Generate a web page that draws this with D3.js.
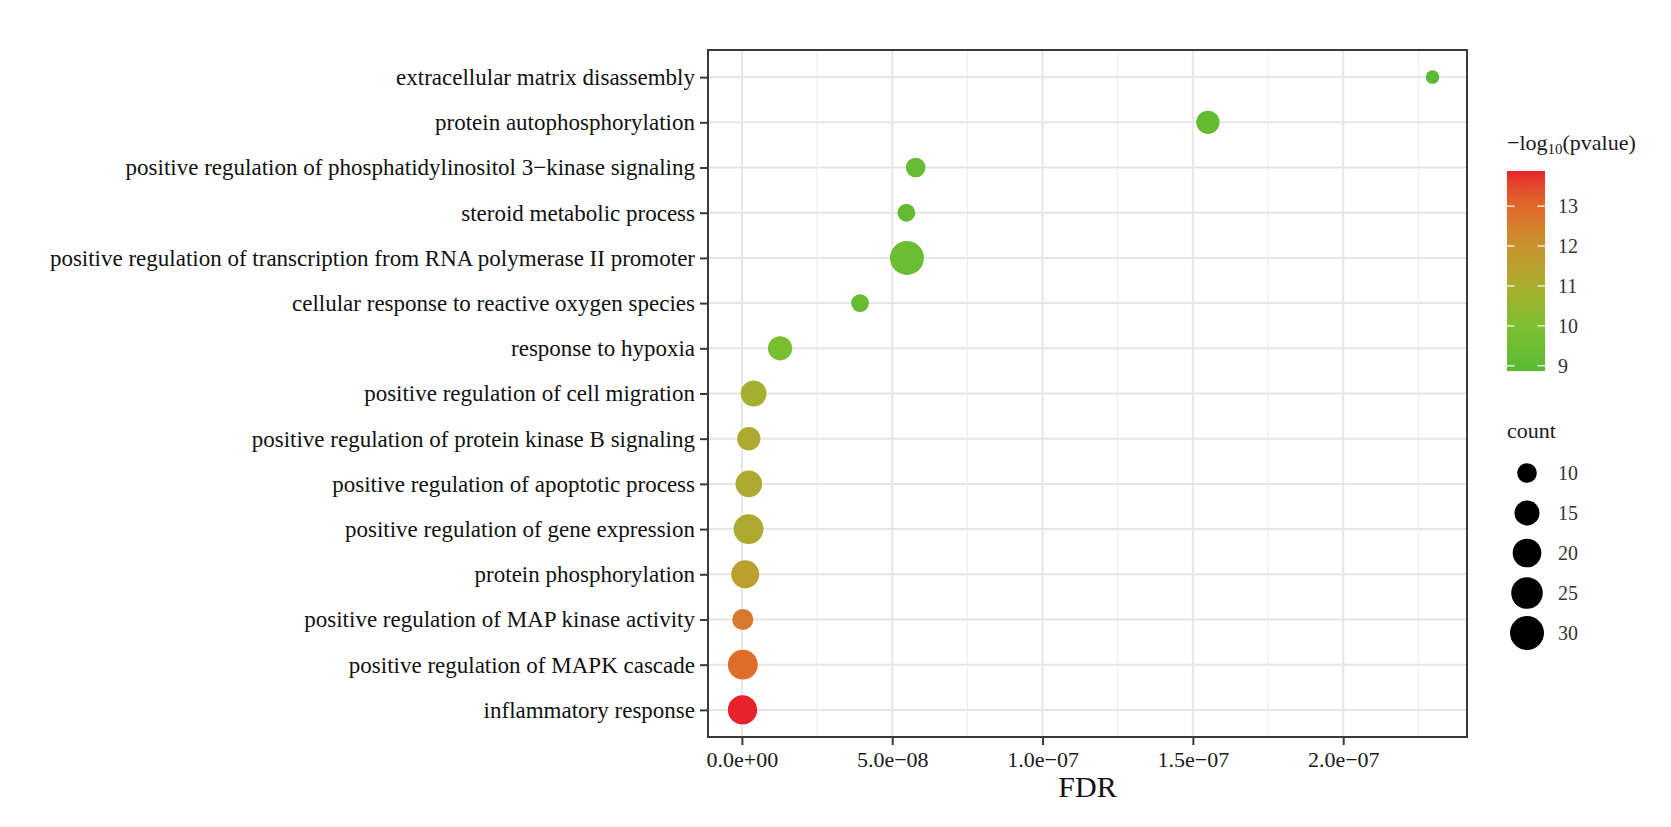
<!DOCTYPE html>
<html>
<head>
<meta charset="utf-8">
<script src="https://cdn.jsdelivr.net/npm/d3@7"></script>
<style>
  html, body { margin: 0; padding: 0; background: #fff; }
  svg { display: block; font-family: "Liberation Serif", "DejaVu Serif", serif; }
</style>
</head>
<body>
<div id="chart"></div>
<script>
// GO enrichment bubble chart — FDR vs term, colour = -log10(p), size = count
const terms = [
  "extracellular matrix disassembly",
  "protein autophosphorylation",
  "positive regulation of phosphatidylinositol 3−kinase signaling",
  "steroid metabolic process",
  "positive regulation of transcription from RNA polymerase II promoter",
  "cellular response to reactive oxygen species",
  "response to hypoxia",
  "positive regulation of cell migration",
  "positive regulation of protein kinase B signaling",
  "positive regulation of apoptotic process",
  "positive regulation of gene expression",
  "protein phosphorylation",
  "positive regulation of MAP kinase activity",
  "positive regulation of MAPK cascade",
  "inflammatory response"
];
const fdr    = [2.297e-7, 1.55e-7, 5.78e-8, 5.47e-8, 5.49e-8, 3.93e-8, 1.27e-8, 3.9e-9, 2.3e-9, 2.3e-9, 2.2e-9, 1.1e-9, 3e-10, 3e-10, 2e-10];
const logP   = [8.87, 9.2, 9.3, 9.2, 9.4, 9.3, 9.9, 10.9, 11.1, 11.1, 11.1, 11.5, 12.6, 12.9, 13.88];
const counts = [8, 13, 10, 9, 30, 9, 14, 16, 13, 17, 22, 19, 11, 22, 21];

const xTickValues = [0, 5e-8, 1e-7, 1.5e-7, 2e-7];
const xTickLabels = ["0.0e+00", "5.0e−08", "1.0e−07", "1.5e−07", "2.0e−07"];
const colorTicks  = [9, 10, 11, 12, 13];
const sizeBreaks  = [10, 15, 20, 25, 30];

const W = 1671, H = 827;
const panel = { left: 708, right: 1467, top: 50, bottom: 737 };

const svg = d3.select("#chart").append("svg")
  .attr("width", W).attr("height", H)
  .attr("viewBox", `0 0 ${W} ${H}`);

// scales
const [fMin, fMax] = d3.extent(fdr);
const pad = (fMax - fMin) * 0.05;
const x = d3.scaleLinear().domain([fMin - pad, fMax + pad]).range([panel.left, panel.right]);
const y = d3.scalePoint().domain(terms).range([panel.top, panel.bottom]).padding(0.6);

const [pMin, pMax] = d3.extent(logP);
const color = d3.scaleLinear()
  .domain([pMin, 10, 11, 12, 13, pMax])
  .range(["#5bba35", "#7cc02f", "#aaad2f", "#c8922c", "#e0682a", "#e8222c"])
  .interpolate(d3.interpolateLab);

const [cMin, cMax] = d3.extent(counts);
const diam = d3.scaleLinear().domain([0, 1]).range([13.5, 34]);
const size = c => diam(Math.sqrt(Math.max(0, (c - cMin) / (cMax - cMin))));

// panel grid
const grid = svg.append("g");
const minorX = d3.range(xTickValues.length - 1).map(i => (xTickValues[i] + xTickValues[i + 1]) / 2)
  .concat([xTickValues[xTickValues.length - 1] + 2.5e-8])
  .filter(v => x(v) > panel.left && x(v) < panel.right);
grid.selectAll(".minor").data(minorX).join("line")
  .attr("x1", d => x(d)).attr("x2", d => x(d))
  .attr("y1", panel.top).attr("y2", panel.bottom)
  .attr("stroke", "#ececec").attr("stroke-width", 1);
grid.selectAll(".majx").data(xTickValues).join("line")
  .attr("x1", d => x(d)).attr("x2", d => x(d))
  .attr("y1", panel.top).attr("y2", panel.bottom)
  .attr("stroke", "#e6e6e6").attr("stroke-width", 2);
grid.selectAll(".majy").data(terms).join("line")
  .attr("x1", panel.left).attr("x2", panel.right)
  .attr("y1", d => y(d)).attr("y2", d => y(d))
  .attr("stroke", "#e6e6e6").attr("stroke-width", 2);

// points
const rows = terms.map((t, i) => ({ term: t, fdr: fdr[i], p: logP[i], count: counts[i] }));
svg.append("g").selectAll("circle").data(rows).join("circle")
  .attr("cx", d => x(d.fdr)).attr("cy", d => y(d.term))
  .attr("r", d => size(d.count) / 2)
  .attr("fill", d => color(d.p));

// border
svg.append("rect")
  .attr("x", panel.left).attr("y", panel.top)
  .attr("width", panel.right - panel.left).attr("height", panel.bottom - panel.top)
  .attr("fill", "none").attr("stroke", "#3a3a3a").attr("stroke-width", 2);

// y axis
const yAxis = svg.append("g").attr("transform", `translate(${panel.left},0)`)
  .call(d3.axisLeft(y).tickSize(8).tickPadding(5));
yAxis.select(".domain").remove();
yAxis.selectAll(".tick line").attr("stroke", "#3a3a3a").attr("stroke-width", 2);
yAxis.selectAll(".tick text")
  .attr("font-family", "Liberation Serif").attr("font-size", 23).attr("fill", "#111");

// x axis
const xAxis = svg.append("g").attr("transform", `translate(0,${panel.bottom})`)
  .call(d3.axisBottom(x).tickValues(xTickValues).tickSize(8).tickPadding(6)
    .tickFormat((d, i) => xTickLabels[i]));
xAxis.select(".domain").remove();
xAxis.selectAll(".tick line").attr("stroke", "#3a3a3a").attr("stroke-width", 2);
xAxis.selectAll(".tick text")
  .attr("font-family", "Liberation Serif").attr("font-size", 22).attr("fill", "#1a1a1a");

svg.append("text")
  .attr("x", (panel.left + panel.right) / 2).attr("y", 797)
  .attr("text-anchor", "middle").attr("font-size", 30).attr("fill", "#111")
  .text("FDR");

// colour legend
const cb = { x: 1507, w: 38, top: 171, bottom: 371 };
const cy = d3.scaleLinear().domain([pMin, pMax]).range([cb.bottom, cb.top]);
const defs = svg.append("defs");
const grad = defs.append("linearGradient").attr("id", "cbar")
  .attr("x1", 0).attr("y1", 1).attr("x2", 0).attr("y2", 0);
grad.selectAll("stop").data(d3.range(0, 1.0001, 0.05)).join("stop")
  .attr("offset", d => d)
  .attr("stop-color", d => color(pMin + d * (pMax - pMin)));

const title = svg.append("text").attr("x", cb.x).attr("y", 150)
  .attr("font-size", 22).attr("fill", "#1a1a1a");
title.append("tspan").text("−log");
title.append("tspan").attr("font-size", 15).attr("dy", 4).text("10");
title.append("tspan").attr("dy", -4).text("(pvalue)");

svg.append("rect")
  .attr("x", cb.x).attr("y", cb.top).attr("width", cb.w).attr("height", cb.bottom - cb.top)
  .attr("fill", "url(#cbar)");
const cbt = svg.append("g").selectAll("g").data(colorTicks).join("g");
cbt.append("line")
  .attr("x1", cb.x).attr("x2", cb.x + cb.w / 5)
  .attr("y1", d => cy(d)).attr("y2", d => cy(d))
  .attr("stroke", "#fff").attr("stroke-width", 1.2);
cbt.append("line")
  .attr("x1", cb.x + cb.w - cb.w / 5).attr("x2", cb.x + cb.w)
  .attr("y1", d => cy(d)).attr("y2", d => cy(d))
  .attr("stroke", "#fff").attr("stroke-width", 1.2);
cbt.append("text")
  .attr("x", 1558).attr("y", d => cy(d)).attr("dy", "0.35em")
  .attr("font-size", 20).attr("fill", "#333")
  .text(d => d);

// size legend
svg.append("text").attr("x", cb.x).attr("y", 438)
  .attr("font-size", 22).attr("fill", "#1a1a1a").text("count");
const sy = d3.scalePoint().domain(sizeBreaks).range([473, 633]);
const sl = svg.append("g").selectAll("g").data(sizeBreaks).join("g");
sl.append("circle")
  .attr("cx", 1527).attr("cy", d => sy(d))
  .attr("r", d => size(d) / 2).attr("fill", "#000");
sl.append("text")
  .attr("x", 1558).attr("y", d => sy(d)).attr("dy", "0.35em")
  .attr("font-size", 20).attr("fill", "#333")
  .text(d => d);
</script>
</body>
</html>
